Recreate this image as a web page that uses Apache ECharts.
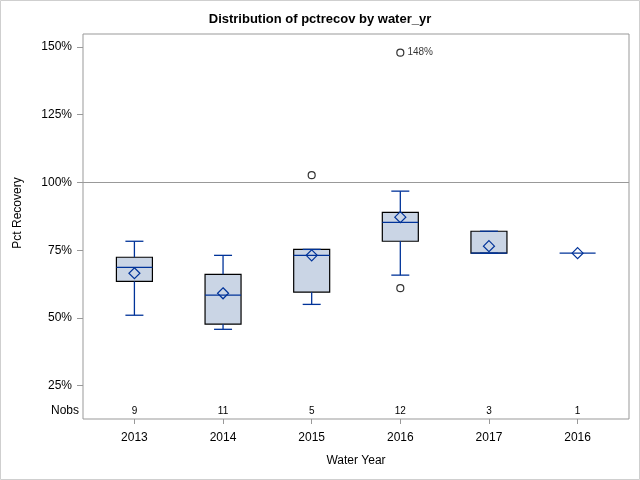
<!DOCTYPE html>
<html><head><meta charset="utf-8">
<script src="https://cdn.jsdelivr.net/npm/echarts@6/dist/echarts.min.js"></script>
<style>html,body{margin:0;padding:0;background:#fff}#c{width:640px;height:480px}</style>
</head><body><div id="c"></div>
<script>
const categories = ['2013', '2014', '2015', '2016', '2017', '2016'];
const whiskerLow = [51.0, 45.8, 55.0, 65.8, 73.9, 73.9];
const q1 = [63.5, 47.7, 59.5, 78.3, 73.9, 73.9];
const median = [68.7, 58.4, 73.1, 85.3, 73.9, 73.9];
const q3 = [72.4, 66.1, 75.3, 89.0, 82.0, 73.9];
const whiskerHigh = [78.3, 73.1, 75.3, 96.8, 82.0, 73.9];
const means = [66.5, 59.1, 73.1, 87.2, 76.5, 73.9];
const nobs = [9, 11, 5, 12, 3, 1];
const outlierCat = [2, 3, 3];
const outlierVal = [102.7, 147.9, 61.0];
const outlierLabel = ['', '148%', ''];
const yTicks = [25, 50, 75, 100, 125, 150];
const catTicks = [0, 1, 2, 3, 4, 5];
const refValue = 100;

const FONT = 'Arial, "Liberation Sans", sans-serif';
const BLUE = '#003399';

const boxData = categories.map((c, i) => [i, whiskerLow[i], q1[i], median[i], q3[i], whiskerHigh[i], means[i], nobs[i]]);
const outlierData = outlierCat.map((c, i) => ({
  value: [c, outlierVal[i]],
  label: { show: outlierLabel[i] !== '', formatter: outlierLabel[i] }
}));

const chart = echarts.init(document.getElementById('c'), null, { renderer: 'canvas' });
chart.setOption({
  animation: false,
  backgroundColor: '#fff',
  textStyle: { fontFamily: FONT },
  title: {
    text: 'Distribution of pctrecov by water_yr',
    left: 'center',
    top: 13,
    padding: [0, 0, 0, 73],
    textStyle: { fontSize: 13, fontWeight: 'bold', color: '#000', fontFamily: FONT }
  },
  grid: {
    left: 83, right: 11, top: 34, bottom: 61,
    show: true, borderColor: '#999', borderWidth: 1, backgroundColor: 'transparent'
  },
  xAxis: {
    type: 'value',
    min: -0.58, max: 5.58,
    name: 'Water Year',
    nameLocation: 'middle',
    nameGap: 36,
    nameTextStyle: { fontSize: 12, color: '#000', fontFamily: FONT },
    axisLine: { show: false, onZero: false },
    splitLine: { show: false },
    axisTick: { show: true, customValues: catTicks, length: 5, lineStyle: { color: '#999' } },
    axisLabel: { customValues: catTicks, formatter: v => categories[v], fontSize: 12, color: '#000', margin: 13, fontFamily: FONT }
  },
  yAxis: {
    type: 'value',
    min: 12.7, max: 154.8,
    axisLine: { show: false, onZero: false },
    splitLine: { show: false },
    axisTick: { show: true, customValues: yTicks, length: 6, lineStyle: { color: '#999' } },
    axisLabel: { customValues: yTicks, formatter: v => v + '%', fontSize: 12, color: '#000', margin: 11, fontFamily: FONT }
  },
  graphic: [
    { type: 'rect', shape: { x: 0.5, y: 0.5, width: 639, height: 479 }, style: { fill: 'none', stroke: '#cfcfcf', lineWidth: 1 }, silent: true },
    { type: 'text', x: 79, y: 411, style: { text: 'Nobs', fontSize: 12, fill: '#000', align: 'right', verticalAlign: 'middle', fontFamily: FONT } },
    { type: 'text', x: 18, y: 213, rotation: Math.PI / 2, style: { text: 'Pct Recovery', fontSize: 12, fill: '#000', align: 'center', verticalAlign: 'middle', fontFamily: FONT } }
  ],
  series: [
    {
      type: 'custom',
      data: boxData,
      encode: { x: 0, y: [1, 2, 3, 4, 5, 6] },
      clip: false,
      markLine: {
        silent: true,
        symbol: ['none', 'none'],
        label: { show: false },
        lineStyle: { color: '#999', width: 1, type: 'solid' },
        data: [{ yAxis: refValue }]
      },
      renderItem: function (params, api) {
        const i = api.value(0);
        const pt = k => api.coord([i, api.value(k)]);
        const cx = pt(3)[0];
        const yLow = pt(1)[1], yQ1 = pt(2)[1], yMed = pt(3)[1], yQ3 = pt(4)[1], yHigh = pt(5)[1], yMean = pt(6)[1];
        const hw = 18, cw = 9, d = 5.5;
        const ls = { stroke: BLUE, lineWidth: 1.3 };
        const ch = [];
        if (yQ1 - yQ3 > 0.5) {
          ch.push({ type: 'rect', shape: { x: cx - hw, y: yQ3, width: 2 * hw, height: yQ1 - yQ3 }, style: { fill: '#CAD5E5', stroke: '#000', lineWidth: 1.2 } });
        }
        if (yQ3 - yHigh > 0.5) ch.push({ type: 'line', shape: { x1: cx, y1: yQ3, x2: cx, y2: yHigh }, style: ls });
        if (yLow - yQ1 > 0.5) ch.push({ type: 'line', shape: { x1: cx, y1: yQ1, x2: cx, y2: yLow }, style: ls });
        if (yQ1 - yQ3 > 0.5) {
          ch.push({ type: 'line', shape: { x1: cx - cw, y1: yHigh, x2: cx + cw, y2: yHigh }, style: ls });
          ch.push({ type: 'line', shape: { x1: cx - cw, y1: yLow, x2: cx + cw, y2: yLow }, style: ls });
        }
        ch.push({ type: 'line', shape: { x1: cx - hw, y1: yMed, x2: cx + hw, y2: yMed }, style: ls });
        ch.push({ type: 'polygon', shape: { points: [[cx, yMean - d], [cx + d, yMean], [cx, yMean + d], [cx - d, yMean]] }, style: { fill: 'none', stroke: BLUE, lineWidth: 1.2 } });
        const cs = params.coordSys;
        ch.push({ type: 'text', x: cx, y: cs.y + cs.height - 8, style: { text: String(api.value(7)), fontSize: 10, fill: '#000', align: 'center', verticalAlign: 'middle', fontFamily: FONT } });
        return { type: 'group', children: ch };
      }
    },
    {
      type: 'scatter',
      data: outlierData,
      symbol: 'circle',
      symbolSize: 7,
      itemStyle: { color: '#fff', borderColor: '#000', borderWidth: 1.2 },
      label: { position: 'right', distance: 3, fontSize: 10, color: '#000', fontFamily: FONT }
    }
  ]
});
</script>
</body></html>
